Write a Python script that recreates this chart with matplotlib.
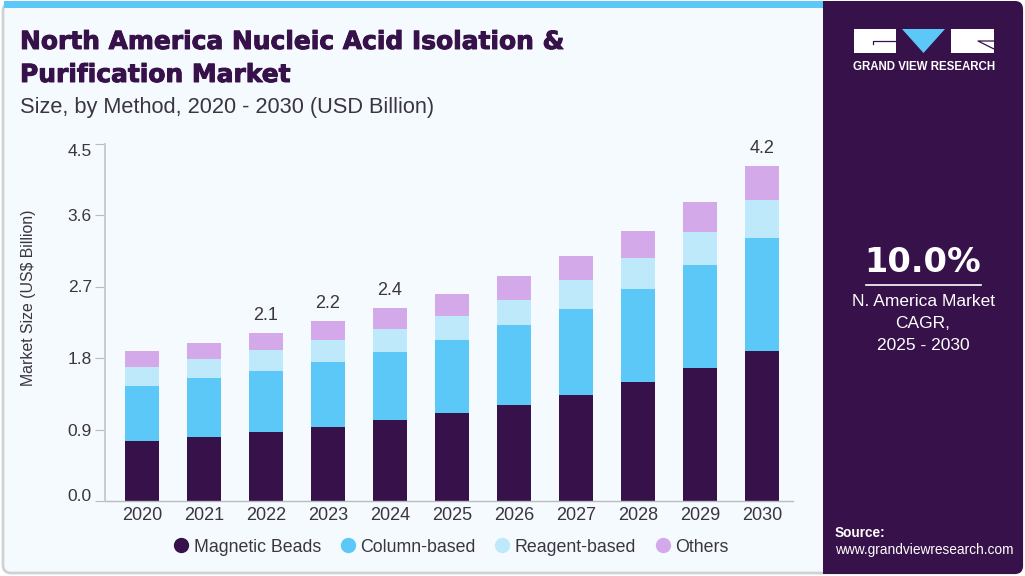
import matplotlib
matplotlib.use('Agg')
import matplotlib.pyplot as plt
import matplotlib.patheffects as pe
from matplotlib.patches import Rectangle, Polygon, FancyBboxPatch

years = ['2020', '2021', '2022', '2023', '2024', '2025', '2026', '2027', '2028', '2029', '2030']
magnetic = [0.756, 0.806, 0.869, 0.932, 1.020, 1.108, 1.209, 1.335, 1.499, 1.675, 1.889]
column = [0.692, 0.743, 0.768, 0.818, 0.857, 0.920, 1.008, 1.083, 1.171, 1.297, 1.423]
reagent = [0.240, 0.239, 0.263, 0.278, 0.289, 0.302, 0.313, 0.365, 0.390, 0.416, 0.478]
others = [0.201, 0.202, 0.216, 0.239, 0.264, 0.277, 0.304, 0.303, 0.340, 0.378, 0.429]
series_names = ['Magnetic Beads', 'Column-based', 'Reagent-based', 'Others']
colors = ['#371149', '#5bc8f8', '#bde9fb', '#d3a9ea']
yticks = [0.0, 0.9, 1.8, 2.7, 3.6, 4.5]
labelled = {'2022': '2.1', '2023': '2.2', '2024': '2.4', '2030': '4.2'}

W, H = 1025, 576
BODY = 'Liberation Sans'
TEXT = '#3b3542'
PURPLE = '#371149'

fig = plt.figure(figsize=(W / 100, H / 100), dpi=100, facecolor='white')

# pixel canvas for the card, side panel and logo
bg = fig.add_axes([0, 0, 1, 1])
bg.set_xlim(0, W)
bg.set_ylim(H, 0)
bg.axis('off')
bg.add_patch(FancyBboxPatch((3, 3), W - 6, H - 6, boxstyle='round,pad=0,rounding_size=8',
                            fc='#f4fafd', ec='#cfd2d3', lw=2))
bg.add_patch(Rectangle((4, 1), 822, 7, fc='#5bc8f8', ec='none'))
bg.add_patch(FancyBboxPatch((823, 1), 200, 573, boxstyle='round,pad=0,rounding_size=8',
                            fc=PURPLE, ec='none'))
bg.add_patch(Rectangle((823, 1), 12, 573, fc=PURPLE, ec='none'))

# logo
bg.add_patch(Rectangle((854, 29), 42, 24, fc='white', ec='none'))
bg.plot([896, 873, 873], [41, 41, 44], color=PURPLE, lw=0.9)
bg.add_patch(Polygon([[902, 29], [945, 29], [923.5, 53]], fc='#5bc8f8', ec='none'))
bg.add_patch(Rectangle((951, 29), 43, 24, fc='white', ec='none'))
bg.plot([994, 978, 994], [41, 41, 49], color=PURPLE, lw=0.9)
bg.text(924, 67, 'GRAND VIEW RESEARCH', color='white', fontsize=8.3, fontweight='bold',
        family=BODY, ha='center', va='center')

# title, stroked a little because the original face is heavier
heavy = [pe.withStroke(linewidth=0.7, foreground=PURPLE)]
bg.text(20, 42, 'North America Nucleic Acid Isolation &', color=PURPLE, fontsize=17.95,
        fontweight='bold', family='DejaVu Sans', va='center', path_effects=heavy)
bg.text(20, 75, 'Purification Market', color=PURPLE, fontsize=17.95,
        fontweight='bold', family='DejaVu Sans', va='center', path_effects=heavy)
bg.text(20, 107.5, 'Size, by Method, 2020 - 2030 (USD Billion)', color=TEXT, fontsize=15.7,
        family=BODY, va='center')

# side panel text
bg.text(923, 262, '10.0%', color='white', fontsize=24.2, fontweight='bold',
        family='DejaVu Sans', ha='center', va='center')
bg.plot([866, 981], [285, 285], color='white', lw=1.2)
bg.text(923, 302, 'N. America Market', color='white', fontsize=12.5, family=BODY,
        ha='center', va='center')
bg.text(923, 323, 'CAGR,', color='white', fontsize=12.5, family=BODY, ha='center', va='center')
bg.text(923, 345, '2025 - 2030', color='white', fontsize=12.5, family=BODY, ha='center', va='center')
bg.text(835, 533, 'Source:', color='white', fontsize=9.8, fontweight='bold', family=BODY, va='center')
bg.text(835, 550, 'www.grandviewresearch.com', color='white', fontsize=9.9, family=BODY, va='center')

bg.text(29, 298, 'Market Size (US$ Billion)', rotation=90, fontsize=11.4, color=TEXT, family=BODY,
        ha='center', va='center')

# chart
ax = fig.add_axes([105 / W, 1 - 501 / H, (793 - 105) / W, (501 - 143.5) / H])
ax.patch.set_alpha(0)
x = list(range(len(years)))
bottom = [0.0] * len(years)
for vals, name, col in zip([magnetic, column, reagent, others], series_names, colors):
    ax.bar(x, vals, width=0.55, bottom=bottom, color=col, label=name)
    bottom = [b + v for b, v in zip(bottom, vals)]

for i, yr in enumerate(years):
    if yr in labelled:
        ax.annotate(labelled[yr], (i, bottom[i]), xytext=(0, 6.5), textcoords='offset points',
                    ha='center', va='bottom', fontsize=13, color=TEXT, family=BODY)

ax.set_xlim(-0.597, 10.5)
ax.set_ylim(0, 4.5)
ax.set_xticks(x, years)
ax.set_yticks(yticks, [f'{t:.1f}' for t in yticks])
ax.tick_params(axis='x', length=0, pad=4, labelsize=13, labelcolor=TEXT)
ax.tick_params(axis='y', length=7.5, width=0.8, color='#b9bcbf', pad=2, labelsize=12.5, labelcolor=TEXT)
for lab in ax.get_xticklabels() + ax.get_yticklabels():
    lab.set_family(BODY)
# end labels sit inside the axis range in the original
ax.get_yticklabels()[0].set_va('baseline')
ax.get_yticklabels()[-1].set_va('top')
for s in ['top', 'right']:
    ax.spines[s].set_visible(False)
ax.spines['left'].set_color('#c9cccd')
ax.spines['left'].set_linewidth(1.4)
ax.spines['bottom'].set_color('#b9bcbf')
ax.spines['bottom'].set_linewidth(1)

# legend dots from the same series
handles = [plt.Line2D([], [], ls='', marker='o', ms=10, color=c) for c in colors]
fig.legend(handles, series_names, loc='center', bbox_to_anchor=(451.5 / W, 1 - 547 / H), ncol=4,
           frameon=False, handlelength=0.8, handletextpad=0.3, columnspacing=1.1,
           prop={'family': BODY, 'size': 12.8}, labelcolor=TEXT)

fig.savefig('out.png', dpi=100)
